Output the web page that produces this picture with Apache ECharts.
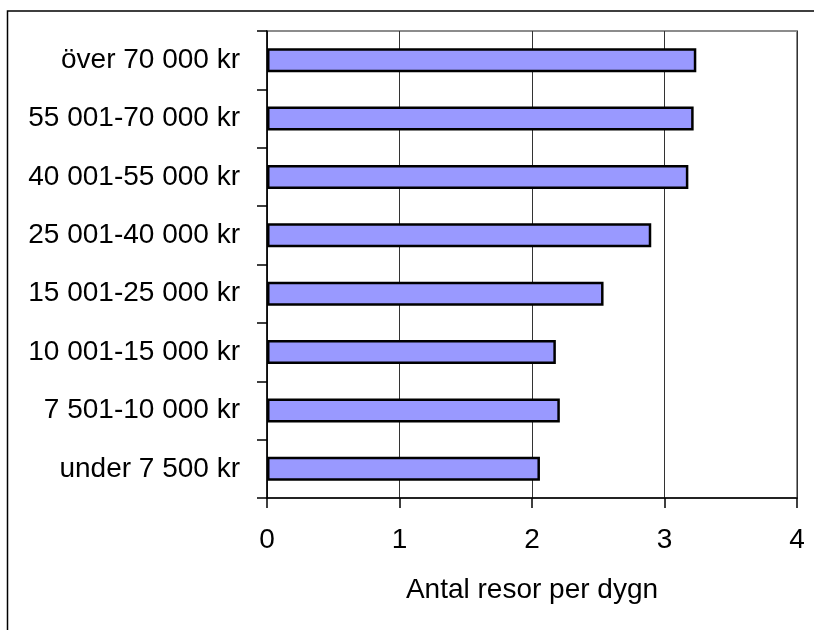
<!DOCTYPE html>
<html>
<head>
<meta charset="utf-8">
<script src="https://cdn.jsdelivr.net/npm/echarts@6/dist/echarts.min.js"></script>
<style>
html,body{margin:0;padding:0;background:#fff;}
#main{width:814px;height:630px;}
</style>
</head>
<body>
<div id="main"></div>
<script>
// inkomstklasser, uppifrån och ned
var categories = ['över 70 000 kr','55 001-70 000 kr','40 001-55 000 kr','25 001-40 000 kr',
                  '15 001-25 000 kr','10 001-15 000 kr','7 501-10 000 kr','under 7 500 kr'];
// antal resor per dygn
var values = [3.24, 3.22, 3.18, 2.90, 2.54, 2.18, 2.21, 2.06];
var xTicks = [0, 1, 2, 3, 4];

var font = '"Liberation Sans", Arial, sans-serif';
var myChart = echarts.init(document.getElementById('main'));

var option = {
    animation: false,
    backgroundColor: '#fff',
    graphic: [{
        type: 'rect',
        shape: { x: 7.5, y: 11, width: 900, height: 700 },
        style: { fill: 'none', stroke: '#000', lineWidth: 1.5 },
        silent: true
    }],
    grid: {
        left: 267, right: 17, top: 31, bottom: 132,
        show: true, borderColor: '#8c8c8c', borderWidth: 2, backgroundColor: '#fff'
    },
    xAxis: {
        type: 'value',
        min: xTicks[0], max: xTicks[xTicks.length - 1], interval: 1,
        name: 'Antal resor per dygn',
        nameLocation: 'middle',
        nameGap: 78,
        nameTextStyle: { fontFamily: font, fontSize: 28, color: '#000' },
        axisLine: { show: true, lineStyle: { color: '#000', width: 1.5 } },
        axisTick: { show: true, length: 10, lineStyle: { color: '#000', width: 1.5 } },
        axisLabel: { margin: 28, fontFamily: font, fontSize: 28, color: '#000' },
        splitLine: { show: true, lineStyle: { color: '#333', width: 1 } }
    },
    yAxis: {
        type: 'category',
        inverse: true,
        data: categories,
        axisLine: { show: true, lineStyle: { color: '#000', width: 1.5 } },
        axisTick: { show: true, length: 10, lineStyle: { color: '#000', width: 1.5 } },
        axisLabel: { margin: 27, fontFamily: font, fontSize: 28, color: '#000' },
        splitLine: { show: false }
    },
    series: [{
        type: 'bar',
        data: values,
        barWidth: '41%',
        itemStyle: { color: '#9999ff', borderColor: '#000', borderWidth: 2.5 }
    }]
};
myChart.setOption(option);
</script>
</body>
</html>
